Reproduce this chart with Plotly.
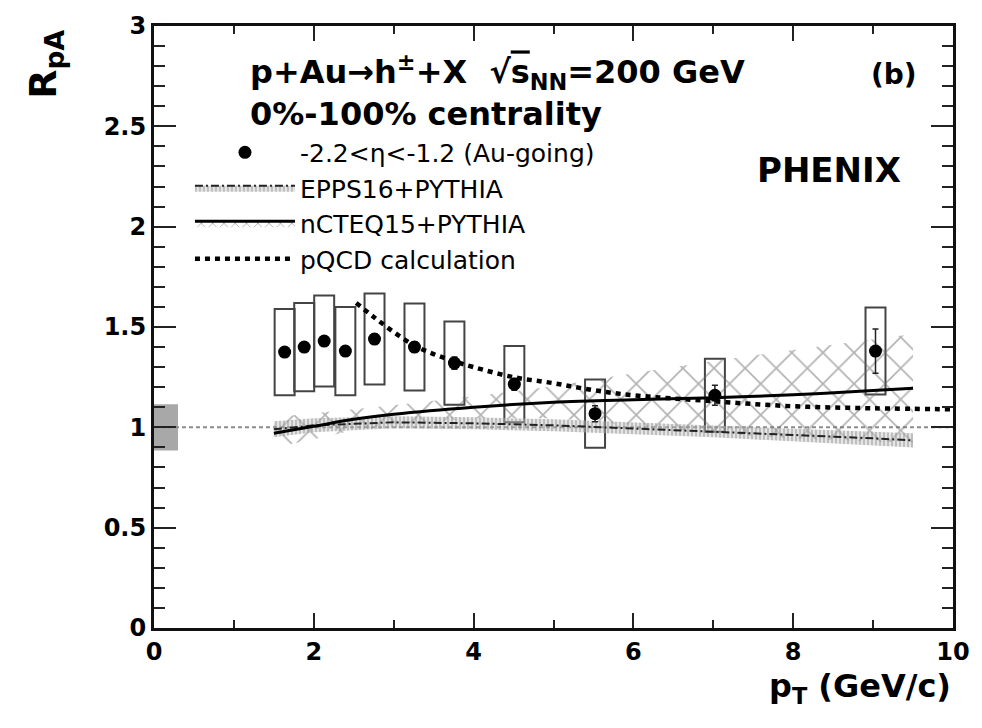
import plotly.graph_objects as go

# ---------------- data ----------------
pt = [1.635, 1.88, 2.13, 2.395, 2.76, 3.26, 3.76, 4.51, 5.52, 7.02, 9.03]
rpa = [1.375, 1.40, 1.43, 1.38, 1.44, 1.40, 1.32, 1.215, 1.068, 1.16, 1.38]
stat = [0.02, 0.02, 0.02, 0.02, 0.025, 0.025, 0.03, 0.03, 0.04, 0.05, 0.11]
syst = [0.215, 0.22, 0.227, 0.22, 0.227, 0.217, 0.208, 0.19, 0.17, 0.182, 0.217]
box_width = 0.25

norm_center = 1.0
norm_unc = 0.115
norm_x = [0.0, 0.3]

epps_x = [1.5, 2.0, 3.0, 4.0, 5.0, 6.0, 7.0, 8.0, 9.0, 9.5]
epps_c = [0.99, 1.01, 1.025, 1.02, 1.01, 0.995, 0.98, 0.962, 0.945, 0.935]
epps_hi = [1.03, 1.045, 1.055, 1.05, 1.04, 1.025, 1.01, 0.995, 0.98, 0.97]
epps_lo = [0.95, 0.975, 0.995, 0.99, 0.98, 0.965, 0.95, 0.93, 0.91, 0.90]

ncteq_x = [1.5, 2.0, 2.5, 3.0, 4.0, 5.0, 6.0, 7.0, 8.0, 9.0, 9.5]
ncteq_c = [0.97, 1.005, 1.04, 1.065, 1.10, 1.125, 1.138, 1.148, 1.162, 1.183, 1.195]
ncteq_hi = [1.05, 1.07, 1.09, 1.11, 1.155, 1.205, 1.27, 1.33, 1.385, 1.44, 1.465]
ncteq_lo = [0.90, 0.94, 0.985, 1.015, 1.045, 1.045, 1.01, 0.97, 0.945, 0.93, 0.925]

pqcd_x = [2.53, 2.75, 3.0, 3.25, 3.5, 3.75, 4.0, 4.5, 5.0, 5.5, 6.0, 7.0, 8.0, 9.0, 10.0]
pqcd_y = [1.62, 1.55, 1.475, 1.41, 1.365, 1.33, 1.30, 1.25, 1.22, 1.185, 1.16, 1.13, 1.105, 1.095, 1.09]

ref_x = [0, 10]
ref_y = [1, 1]

x_range = [0, 10]
y_range = [0, 3]

FONT = "DejaVu Sans"
fig = go.Figure()

HATCH = dict(shape="x", fgcolor="#666666", bgcolor="rgba(0,0,0,0)", size=22, solidity=0.15)
EPPS_FILL = dict(shape="|", fgcolor="#8e8e8e", bgcolor="rgba(190,190,190,0.4)", size=4, solidity=0.45)

# global normalisation uncertainty
fig.add_trace(go.Bar(
    x=[(norm_x[0] + norm_x[1]) / 2], y=[2 * norm_unc], base=[norm_center - norm_unc],
    width=[norm_x[1] - norm_x[0]], marker=dict(color="#a8a8a8", line=dict(width=0)),
    showlegend=False, hoverinfo="skip"))

# reference line at 1
fig.add_trace(go.Scatter(x=ref_x, y=ref_y, mode="lines",
                         line=dict(color="#8c8c8c", width=2, dash="4px,3px"),
                         showlegend=False, hoverinfo="skip"))

# nCTEQ band
fig.add_trace(go.Scatter(
    x=ncteq_x + ncteq_x[::-1], y=ncteq_hi + ncteq_lo[::-1], mode="lines",
    fill="toself", line=dict(width=0), fillcolor="rgba(0,0,0,0)",
    fillpattern=HATCH, showlegend=False, hoverinfo="skip"))

# EPPS band
fig.add_trace(go.Scatter(
    x=epps_x + epps_x[::-1], y=epps_hi + epps_lo[::-1], mode="lines",
    fill="toself", line=dict(width=0), fillcolor="rgba(0,0,0,0)",
    fillpattern=EPPS_FILL, showlegend=False, hoverinfo="skip"))

# EPPS central
fig.add_trace(go.Scatter(x=epps_x, y=epps_c, mode="lines",
                         line=dict(color="#222", width=2, dash="8px,3px,2px,3px"),
                         showlegend=False, hoverinfo="skip"))
# nCTEQ central
fig.add_trace(go.Scatter(x=ncteq_x, y=ncteq_c, mode="lines", line_shape="spline",
                         line=dict(color="black", width=3),
                         showlegend=False, hoverinfo="skip"))
# pQCD
fig.add_trace(go.Scatter(x=pqcd_x, y=pqcd_y, mode="lines", line_shape="spline",
                         line=dict(color="black", width=4.5, dash="5px,5px"),
                         showlegend=False, hoverinfo="skip"))

# systematic boxes
fig.add_trace(go.Bar(
    x=pt, y=[2 * s for s in syst], base=[r - s for r, s in zip(rpa, syst)],
    width=[box_width] * len(pt),
    marker=dict(color="rgba(0,0,0,0)", line=dict(color="#444", width=2)),
    showlegend=False, hoverinfo="skip"))

# data points
fig.add_trace(go.Scatter(
    x=pt, y=rpa, mode="markers", name="-2.2&lt;η&lt;-1.2 (Au-going)",
    marker=dict(color="black", size=13),
    error_y=dict(type="data", array=stat, color="#222", thickness=1.5, width=3),
    legendrank=1))

# legend-only entries
fig.add_trace(go.Scatter(
    x=[None], y=[None], mode="lines", name="EPPS16+PYTHIA", fill="toself",
    fillcolor="rgba(0,0,0,0)", fillpattern=EPPS_FILL,
    line=dict(color="#222", width=2, dash="8px,3px,2px,3px"), legendrank=2))
fig.add_trace(go.Scatter(
    x=[None], y=[None], mode="lines", name="nCTEQ15+PYTHIA", fill="toself",
    fillcolor="rgba(0,0,0,0)",
    fillpattern=dict(shape="x", fgcolor="#555", bgcolor="rgba(0,0,0,0)", size=8, solidity=0.2),
    line=dict(color="black", width=3), legendrank=3))
fig.add_trace(go.Scatter(
    x=[None], y=[None], mode="lines", name="pQCD calculation",
    line=dict(color="black", width=4.5, dash="5px,5px"), legendrank=4))

axis_common = dict(
    showgrid=False, zeroline=False, showline=True, linecolor="#111", linewidth=3,
    ticks="inside", mirror="allticks", tickcolor="#222", tickwidth=2,
    tickfont=dict(family=FONT, size=24, color="black", weight="bold"),
)

fig.update_layout(
    width=982, height=728,
    margin=dict(l=154, r=25, t=23, b=100),
    paper_bgcolor="white", plot_bgcolor="white",
    barmode="overlay",
    xaxis=dict(range=x_range, dtick=2, ticklen=15,
               minor=dict(ticks="inside", dtick=1, ticklen=8, tickcolor="#222", tickwidth=2),
               **axis_common),
    yaxis=dict(range=y_range, dtick=0.5, ticklen=22,
               minor=dict(ticks="inside", dtick=0.1, ticklen=11, tickcolor="#222", tickwidth=2),
               **axis_common),
    legend=dict(x=0.045, y=0.828, xanchor="left", yanchor="top",
                bgcolor="rgba(0,0,0,0)", itemwidth=100, tracegroupgap=0,
                font=dict(family=FONT, size=25, color="black")),
    showlegend=True,
    font=dict(family=FONT, color="black"),
)

annotations = [
    dict(text="p+Au→h<sup>±</sup>+X  √<span style='text-decoration:overline'>s</span><sub>NN</sub>=200 GeV",
         x=0.118, y=0.924, xanchor="left", yanchor="middle",
         font=dict(size=32, weight="bold")),
    dict(text="0%-100% centrality", x=0.118, y=0.854, xanchor="left", yanchor="middle",
         font=dict(size=32, weight="bold")),
    dict(text="(b)", x=0.958, y=0.919, xanchor="right", yanchor="middle",
         font=dict(size=28, weight="bold")),
    dict(text="PHENIX", x=0.752, y=0.76, xanchor="left", yanchor="middle",
         font=dict(size=34, weight="bold")),
    dict(text="R<sub>pA</sub>", x=-0.136, y=0.936, xanchor="center", yanchor="middle",
         textangle=-90, font=dict(size=38, weight="bold")),
    dict(text="p<sub>T</sub> (GeV/c)", x=1.0, y=-0.1, xanchor="right", yanchor="middle",
         font=dict(size=32, weight="bold")),
]
for a in annotations:
    a.update(xref="paper", yref="paper", showarrow=False)
    a["font"].update(family=FONT, color="black")
fig.update_layout(annotations=annotations)

fig.write_html("out.html")
